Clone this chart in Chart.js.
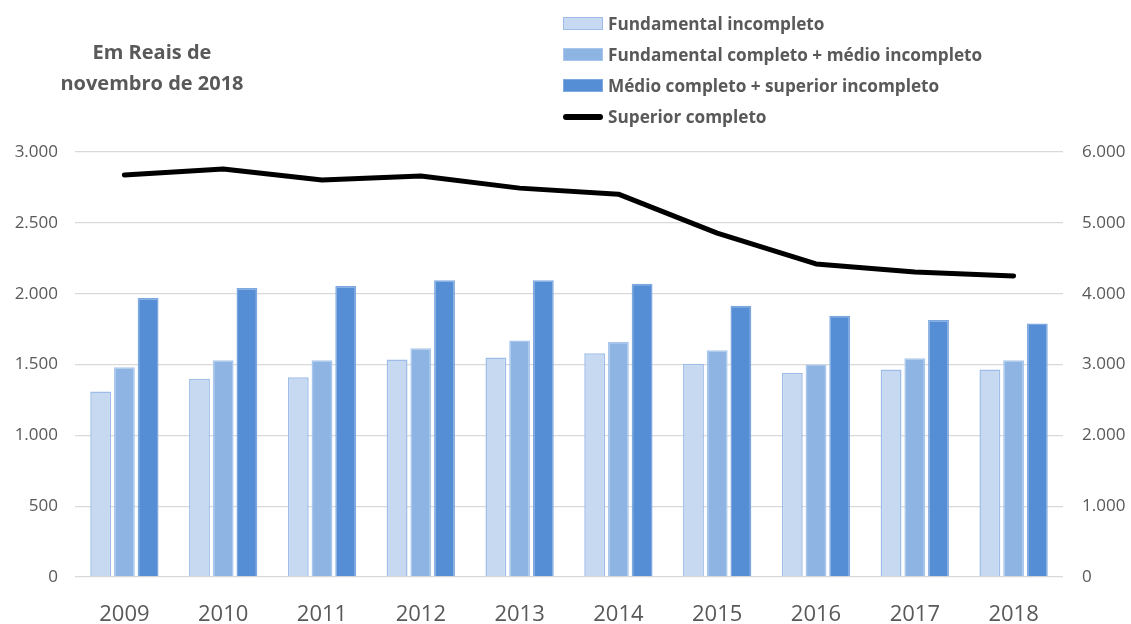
<!DOCTYPE html>
<html>
<head>
<meta charset="utf-8">
<script src="https://cdn.jsdelivr.net/npm/chart.js@4.4.1/dist/chart.umd.min.js"></script>
<style>
  html, body { margin: 0; padding: 0; background: #fff; }
  #wrap { position: relative; width: 1131px; height: 624px; }
  #note {
    position: absolute; left: 29px; top: 36px; width: 246px;
    text-align: center; font: bold 20px "Open Sans", sans-serif; color: #595959; line-height: 31px;
  }
  #legend { position: absolute; left: 563px; top: 8px; font: bold 17.2px "Open Sans", sans-serif; color: #595959; }
  #legend div { height: 31px; display: flex; align-items: center; white-space: nowrap; }
  #legend span.sw { display: inline-block; width: 40px; height: 13px; margin-right: 5px; box-sizing: border-box; }
  #legend span.ln { display: inline-block; width: 40px; height: 6px; margin-right: 5px; background: #000; border-radius: 3px; }
</style>
</head>
<body>
<div id="wrap">
  <canvas id="myChart" width="1131" height="624"></canvas>
  <div id="note">Em Reais de<br>novembro de 2018</div>
  <div id="legend"></div>
</div>
<script>
"use strict";

var years = ['2009', '2010', '2011', '2012', '2013', '2014', '2015', '2016', '2017', '2018'];

var fundIncompleto   = [1310, 1400, 1410, 1535, 1550, 1580, 1505, 1440, 1465, 1465];
var fundCompleto     = [1480, 1530, 1530, 1615, 1670, 1660, 1600, 1500, 1545, 1530];
var medioCompleto    = [1970, 2040, 2055, 2095, 2095, 2070, 1915, 1845, 1815, 1790];
var superiorCompleto = [5675, 5760, 5605, 5660, 5490, 5405, 4855, 4420, 4305, 4250];

var leftTicks  = [0, 500, 1000, 1500, 2000, 2500, 3000];
var rightTicks = [0, 1000, 2000, 3000, 4000, 5000, 6000];

function fmt(v) {
    return String(v).replace(/\B(?=(\d{3})+(?!\d))/g, '.');
}

var grey = '#595959';

var chart = new Chart(document.getElementById('myChart'), {
    type: 'bar',
    data: {
        labels: years,
        datasets: [
            {
                label: 'Superior completo',
                type: 'line',
                data: superiorCompleto,
                yAxisID: 'y1',
                borderColor: '#000000',
                backgroundColor: '#000000',
                borderWidth: 5,
                pointRadius: 0,
                tension: 0,
                borderCapStyle: 'round',
                borderJoinStyle: 'round'
            },
            {
                label: 'Fundamental incompleto',
                data: fundIncompleto,
                backgroundColor: '#C6D9F1',
                borderColor: '#9DBDE8',
                borderWidth: 1.5,
                yAxisID: 'y'
            },
            {
                label: 'Fundamental completo + médio incompleto',
                data: fundCompleto,
                backgroundColor: '#8EB4E3',
                borderColor: '#A9C7EC',
                borderWidth: 1.5,
                yAxisID: 'y'
            },
            {
                label: 'Médio completo + superior incompleto',
                data: medioCompleto,
                backgroundColor: '#558ED5',
                borderColor: '#7EA9E0',
                borderWidth: 1.5,
                yAxisID: 'y'
            }
        ]
    },
    options: {
        responsive: false,
        animation: false,
        layout: { padding: { top: 152, left: 0, right: 0, bottom: 0 } },
        plugins: {
            legend: { display: false },
            title: { display: false },
            tooltip: { enabled: false }
        },
        datasets: {
            bar: { categoryPercentage: 0.72, barPercentage: 0.88 }
        },
        scales: {
            x: {
                grid: { display: false },
                border: { display: false },
                ticks: { color: grey, font: { family: 'Open Sans', size: 22 }, padding: 17 },
                afterFit: function (s) { s.height = 47; }
            },
            y: {
                position: 'left',
                min: 0, max: 3000,
                afterBuildTicks: function (s) { s.ticks = leftTicks.map(function (v) { return { value: v }; }); },
                ticks: { color: grey, font: { family: 'Open Sans', size: 17 }, padding: 17, callback: fmt },
                grid: { color: '#D9D9D9', lineWidth: 1.3, drawTicks: false },
                border: { display: false },
                afterFit: function (s) { s.width = 75; }
            },
            y1: {
                position: 'right',
                min: 0, max: 6000,
                afterBuildTicks: function (s) { s.ticks = rightTicks.map(function (v) { return { value: v }; }); },
                ticks: { color: grey, font: { family: 'Open Sans', size: 17 }, padding: 19, callback: fmt },
                grid: { display: false, drawTicks: false },
                border: { display: false },
                afterFit: function (s) { s.width = 68; }
            }
        }
    }
});

// legend in the Excel order: three bar series, then the line
var legendOrder = [1, 2, 3, 0];
var legendBox = document.getElementById('legend');
legendOrder.forEach(function (i) {
    var ds = chart.data.datasets[i];
    var row = document.createElement('div');
    var sw = document.createElement('span');
    if (ds.type === 'line') {
        sw.className = 'ln';
    } else {
        sw.className = 'sw';
        sw.style.background = ds.backgroundColor;
        sw.style.border = '1px solid ' + ds.borderColor;
    }
    row.appendChild(sw);
    row.appendChild(document.createTextNode(ds.label));
    legendBox.appendChild(row);
});
</script>
</body>
</html>
